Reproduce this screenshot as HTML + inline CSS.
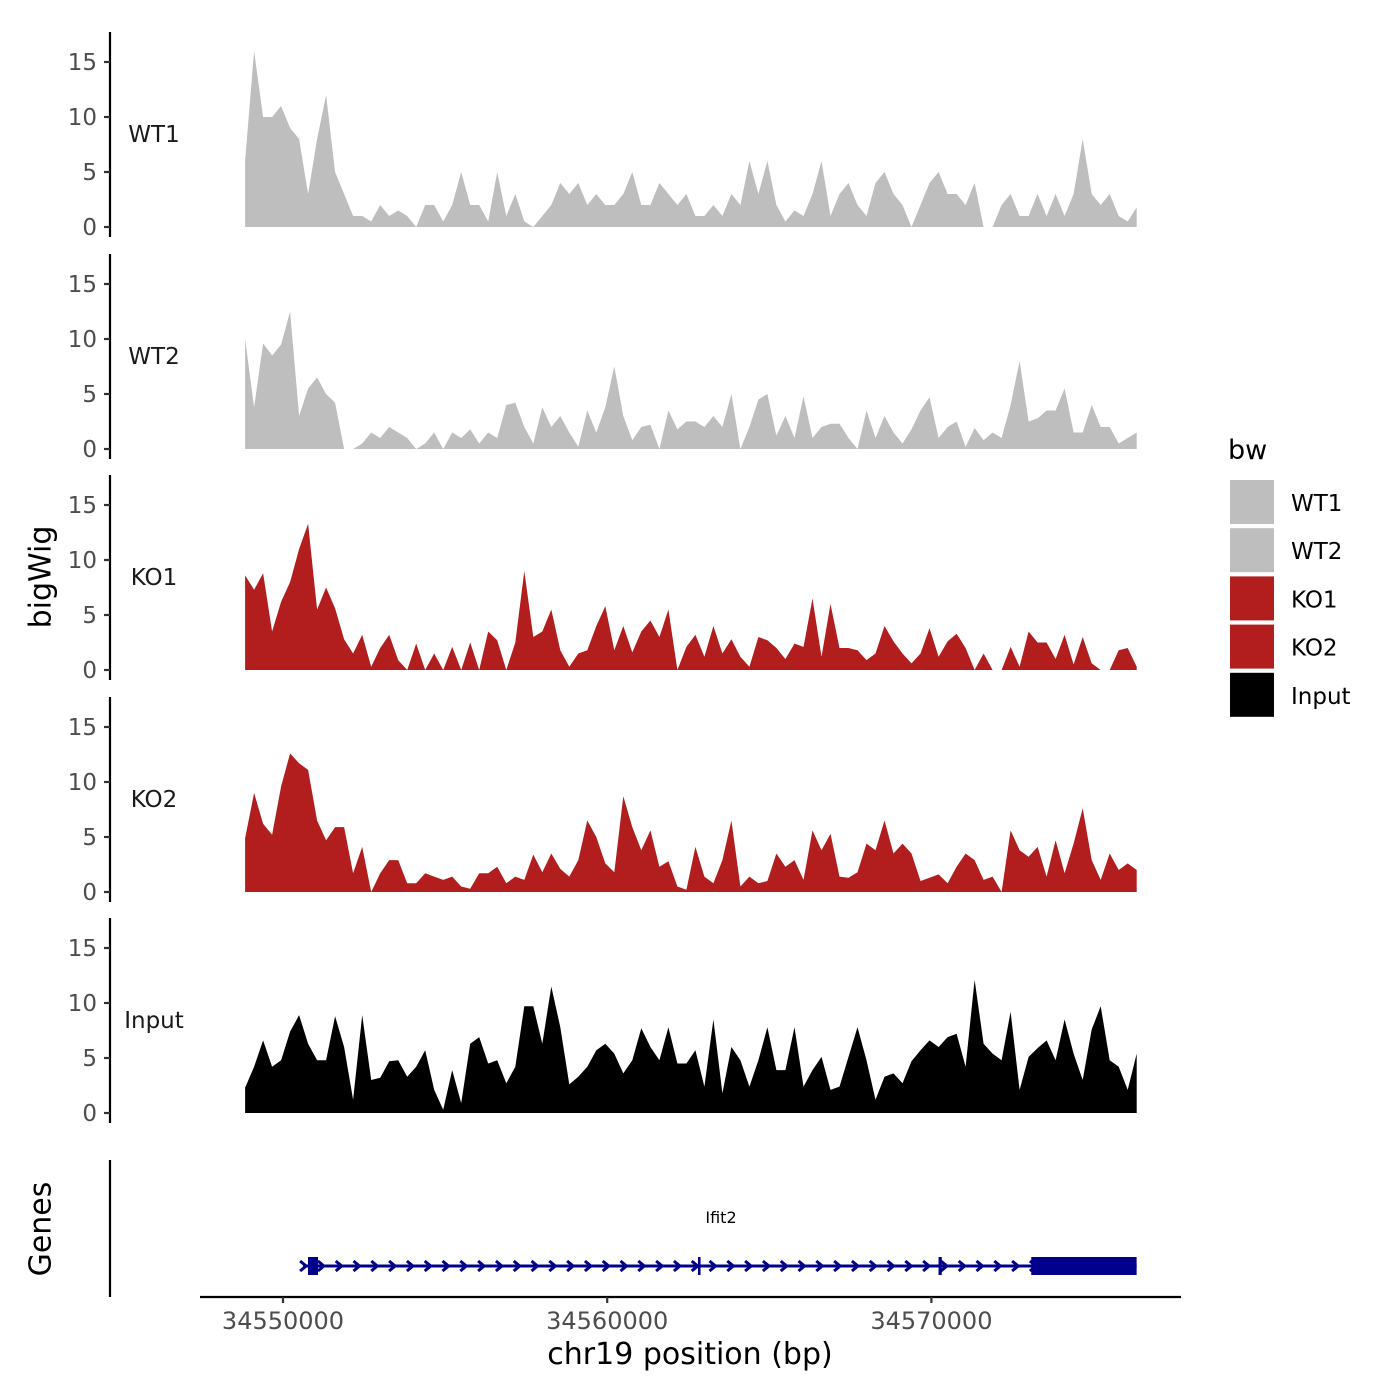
<!DOCTYPE html>
<html><head><meta charset="utf-8"><style>
html,body{margin:0;padding:0;background:#fff;}
svg{display:block;font-family:"DejaVu Sans","Liberation Sans",sans-serif;}
</style></head><body>
<svg id="chart" width="1400" height="1400" viewBox="0 0 1400 1400" xmlns="http://www.w3.org/2000/svg">
<rect width="1400" height="1400" fill="#fff"/>
<g id="tracks"></g>
<g id="genes"></g>
<g id="xaxis"></g>
<text x="42" y="577" transform="rotate(-90 42 577)" text-anchor="middle" dominant-baseline="middle" font-size="30" fill="#000">bigWig</text>
<text x="42" y="1229" transform="rotate(-90 42 1229)" text-anchor="middle" dominant-baseline="middle" font-size="30" fill="#000">Genes</text>
<text x="690" y="1364" text-anchor="middle" font-size="30" fill="#000">chr19 position (bp)</text>
<g id="legend">
<text x="1228" y="459" font-size="27" fill="#000">bw</text>
</g>
</svg>
<script>
const seriesNames = ["WT1","WT2","KO1","KO2","Input"];
const seriesColors = ["#bebebe","#bebebe","#b21e1e","#b21e1e","#000000"];
const yTicks = [0,5,10,15];
const xTicks = [34550000,34560000,34570000];
const xTickLabels = ["34550000","34560000","34570000"];
const binStart = 34548830;
const binStep = 277.8;
const wt1 = [6,16,10,10,11,9,8,3,8,12,5,3,1,1,0.5,2,1,1.5,1,0,2,2,0.5,2,5,2,2,0.5,5,1,3,0.5,0,1,2,4,3,4,2,3,2,2,3,5,2,2,4,3,2,3,1,1,2,1,3,2,6,3,6,2,0.5,1.5,1,3,6,1,3,4,2,1,4,5,3,2,0,2,4,5,3,3,2,4,0,0,2,3,1,1,3,1,3,1,3,8,3,2,3,1,0.5,1.8];
const wt2 = [10,3.8,9.6,8.5,9.5,12.5,3,5.5,6.5,5,4.2,0,0,0.5,1.5,1,2,1.5,1,0,0.5,1.5,0,1.5,1,1.8,0.5,1.5,1,4,4.2,2,0.5,3.8,2,3,1.5,0.2,3.5,1.5,3.8,7.5,3,0.8,2,2.2,0,3.5,1.8,2.5,2.5,2,3,2,5,0,2,4.5,5,1.2,3,1,4.8,1,2,2.3,2.3,1,0,3.5,1,3,1.5,0.5,1.8,3.5,4.7,1,2,2.5,0.2,1.9,0.8,1.5,1,4,8,2.5,2.8,3.5,3.5,5.5,1.5,1.5,4,2,2,0.5,1,1.5];
const ko1 = [8.6,7.3,8.8,3.5,6.2,8,11,13.3,5.5,7.5,5.6,2.8,1.5,3.2,0.3,2,3.2,0.9,0,2.4,0,1.5,0,2.1,0,2.5,0,3.5,2.7,0,2.5,9,3,3.5,5.5,1.8,0.3,1.5,1.8,4,5.8,1.8,4,1.6,3.5,4.5,3,5.5,0,2.1,3.2,1.2,4,1.5,2.8,1.2,0.3,3,2.7,2,1,2.4,2.1,6.5,1.2,6,2,2,1.8,0.9,1.5,4,2.6,1.5,0.6,1.5,3.8,1.2,2.6,3.3,2,0,1.5,0,0,2.1,0.3,3.5,2.5,2.5,1,3.2,0.5,3,0.6,0,0,1.8,2,0.3];
const ko2 = [4.9,9,6.2,5.2,9.6,12.6,11.7,11.1,6.5,4.7,5.9,5.9,1.7,4.1,0,1.7,2.9,2.9,0.8,0.8,1.7,1.4,1.1,1.4,0.5,0.3,1.7,1.7,2.3,0.8,1.4,1.1,3.4,1.8,3.5,2.1,1.4,2.9,6.5,5,2.6,1.8,8.7,5.9,3.8,5.6,2.3,2.8,0.5,0.2,4.1,1.4,0.8,2.9,6.5,0.5,1.4,0.8,1,3.5,2.3,2.9,1.1,5.6,3.8,5.3,1.4,1.3,1.8,4.4,3.8,6.5,3.5,4.4,3.5,1,1.3,1.6,0.8,2.3,3.5,2.9,1.1,1.4,0,5.6,3.8,3.2,4.1,1.4,4.7,1.7,4.4,7.6,2.9,1.1,3.5,2,2.6,2];
const input = [2.3,4.2,6.6,4.2,4.8,7.4,8.9,6.3,4.8,4.8,8.8,6,1.2,8.9,3,3.2,4.7,4.8,3.3,4.2,5.7,2.1,0.3,3.9,0.9,6.3,6.9,4.5,4.8,2.7,4.2,9.7,9.7,6.3,11.5,7.8,2.6,3.3,4.2,5.7,6.3,5.4,3.6,4.8,7.7,6,4.8,7.8,4.5,4.5,5.7,2.4,8.5,1.8,6,4.8,2.4,4.8,7.8,3.9,3.9,7.8,2.4,3.9,5.1,2.1,2.4,5.1,7.8,4.8,1.2,3.3,3.6,2.7,4.7,5.7,6.6,6,6.9,7.2,4.2,12.1,6.3,5.4,4.8,9.2,2.1,5.1,5.9,6.6,4.8,8.5,5.4,3,7.6,9.7,4.8,4.2,2.1,5.4];
const seriesData = [wt1,wt2,ko1,ko2,input];
const geneName = "Ifit2";
const geneStart = 34550620, geneEnd = 34576330;
const exons = [[34550770,34551080],[34562800,34562880],[34570220,34570320],[34573080,34576330]];

const NS="http://www.w3.org/2000/svg";
function mk(tag,attrs,parent){const e=document.createElementNS(NS,tag);for(const k in attrs)e.setAttribute(k,attrs[k]);if(parent)parent.appendChild(e);return e;}
function xs(bp){return 283+(bp-34550000)*0.03242;}
const panelBase=[227,449,670,892,1113];
const yUnit=11;
const tracks=document.getElementById('tracks');
seriesNames.forEach((name,si)=>{
  const base=panelBase[si];
  const g=mk('g',{},tracks);
  
  
  const vals=seriesData[si];
  let d='M'+xs(binStart).toFixed(1)+','+base;
  vals.forEach((v,i)=>{d+=' L'+xs(binStart+i*binStep).toFixed(1)+','+(base-v*yUnit).toFixed(1);});
  d+=' L'+xs(binStart+(vals.length-1)*binStep).toFixed(1)+','+base+' Z';
  const p=mk('path',{d:d,fill:seriesColors[si]},g);
  
  
  const ax=mk('line',{x1:110,x2:110,y1:base-195,y2:base+10,stroke:'#000','stroke-width':2.2},g);
  
  
  yTicks.forEach(t=>{
    const y=base-t*yUnit;
    const tk=mk('line',{x1:104,x2:110,y1:y,y2:y,stroke:'#333','stroke-width':2.2},g);
    
    
    const tl=mk('text',{x:97,y:y+8,'text-anchor':'end','font-size':23,fill:'#4d4d4d'},g);
    
    
    tl.textContent=t;
  });
  const lb=mk('text',{x:154,y:base-85,'text-anchor':'middle','font-size':23,fill:'#1a1a1a'},g);
  
  
  lb.textContent=name;
});
// genes
const gg=document.getElementById('genes');
const gax=mk('line',{x1:110,x2:110,y1:1160,y2:1297,stroke:'#000','stroke-width':2.2},gg);


const gl=mk('line',{x1:xs(geneStart),x2:xs(geneEnd),y1:1266,y2:1266,stroke:'#00008B','stroke-width':3},gg);


for(let x=xs(geneStart);x<xs(geneEnd)-6;x+=17.8){
  const c=mk('path',{d:'M'+(x-3)+',1261 L'+(x+3)+',1266 L'+(x-3)+',1271',fill:'none',stroke:'#00008B','stroke-width':3},gg);
  
  
}
exons.forEach(e=>{
  const x1=xs(e[0]),x2=xs(e[1]);
  const r=mk('rect',{x:x1,y:1257,width:Math.max(2.5,x2-x1),height:18,fill:'#00008B'},gg);
  
  
});
const gn=mk('text',{x:721,y:1223,'text-anchor':'middle','font-size':16,fill:'#000'},gg);


gn.textContent=geneName;
// x axis
const xa=document.getElementById('xaxis');
const xl=mk('line',{x1:200,x2:1181,y1:1297,y2:1297,stroke:'#000','stroke-width':2.2},xa);


xTicks.forEach((t,i)=>{
  const x=xs(t);
  const tk=mk('line',{x1:x,x2:x,y1:1297,y2:1303,stroke:'#333','stroke-width':2.2},xa);
  
  
  const tl=mk('text',{x:x,y:1329,'text-anchor':'middle','font-size':24,fill:'#4d4d4d'},xa);
  
  
  tl.textContent=xTickLabels[i];
});
// legend
const lg=document.getElementById('legend');
seriesNames.forEach((name,i)=>{
  const y=480+i*48.2;
  const r=mk('rect',{x:1230,y:y,width:44,height:44,fill:seriesColors[i]},lg);
  
  
  const t=mk('text',{x:1291,y:y+31,'font-size':23,fill:'#000'},lg);
  
  
  t.textContent=name;
});
</script>
</body></html>
